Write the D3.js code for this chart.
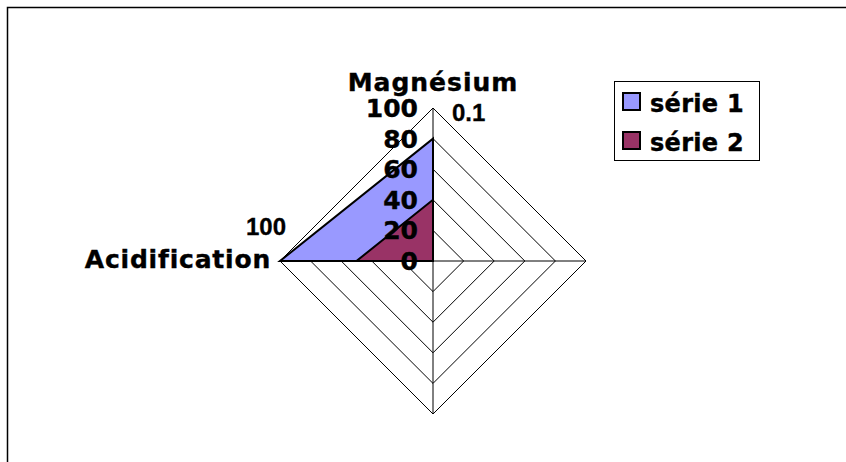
<!DOCTYPE html>
<html>
<head>
<meta charset="utf-8">
<script src="https://cdn.jsdelivr.net/npm/d3@7"></script>
<style>
  body { margin: 0; background: #fff; }
  svg { display: block; }
  .bold { font-family: "DejaVu Sans"; font-weight: bold; stroke: #000; stroke-width: 0.4px; }
  .arial { font-family: "Liberation Sans"; font-weight: bold; stroke: #000; stroke-width: 0.3px; }
</style>
</head>
<body>
<div id="container"></div>
<script>
/* CONSTANTS AND GLOBALS */
const width = 846;
const height = 462;

// DATA
const categories = ["Magnésium", "", "", "Acidification"];
const serie1 = [80, 0, 0, 100];
const serie2 = [40, 0, 0, 50];
const seriesNames = ["série 1", "série 2"];
const seriesColors = ["#9999ff", "#993366"];
const tickValues = [0, 20, 40, 60, 80, 100];
const extraLabels = ["0.1", "100"];

const cx = 433, cy = 261, radius = 153;

// SCALES
const r = d3.scaleLinear().domain([0, 100]).range([0, radius]);
const angle = d3.scaleLinear().domain([0, categories.length]).range([0, 2 * Math.PI]);

function pt(i, v) {
  const a = angle(i);
  return [r(v) * Math.sin(a), -r(v) * Math.cos(a)];
}

// CREATE SVG ELEMENT
const svg = d3.select("#container")
  .append("svg")
    .attr("width", width)
    .attr("height", height);

// chart frame
svg.append("rect")
  .attr("x", 7.5).attr("y", 7.5)
  .attr("width", width + 20).attr("height", height + 20)
  .attr("fill", "none")
  .attr("stroke", "#000")
  .attr("stroke-width", 1.5);

const g = svg.append("g")
  .attr("transform", "translate(" + cx + "," + cy + ")");

// grid rings
const line = d3.line().curve(d3.curveLinearClosed);
g.selectAll(".ring")
  .data(tickValues.filter(d => d > 0))
  .join("path")
    .attr("class", "ring")
    .attr("d", v => line(categories.map((c, i) => pt(i, v))))
    .attr("fill", "none")
    .attr("stroke", "#000")
    .attr("stroke-width", 1);

// spokes
g.selectAll(".spoke")
  .data(categories)
  .join("line")
    .attr("class", "spoke")
    .attr("x1", 0).attr("y1", 0)
    .attr("x2", (d, i) => pt(i, 100)[0])
    .attr("y2", (d, i) => pt(i, 100)[1])
    .attr("stroke", "#000")
    .attr("stroke-width", 1);

// series areas
[serie1, serie2].forEach((s, k) => {
  g.append("path")
    .attr("d", line(s.map((v, i) => pt(i, v))))
    .attr("fill", seriesColors[k])
    .attr("stroke", "#000")
    .attr("stroke-width", 2);
});

// tick labels along the first axis
g.selectAll(".tick")
  .data(tickValues)
  .join("text")
    .attr("class", "tick bold")
    .attr("x", -15)
    .attr("y", v => -r(v))
    .attr("dy", "0.36em")
    .attr("text-anchor", "end")
    .attr("font-size", 25)
    .text(d => d);

// category labels
g.append("text")
  .attr("class", "bold")
  .attr("x", 0).attr("y", -170)
  .attr("text-anchor", "middle")
  .attr("letter-spacing", 1)
  .attr("font-size", 25)
  .text(categories[0]);

g.append("text")
  .attr("class", "bold")
  .attr("x", -162).attr("y", 7)
  .attr("text-anchor", "end")
  .attr("letter-spacing", 0.8)
  .attr("font-size", 25)
  .text(categories[3]);

// extra labels
svg.append("text")
  .attr("class", "arial")
  .attr("x", 452).attr("y", 121)
  .attr("font-size", 24)
  .text(extraLabels[0]);

svg.append("text")
  .attr("class", "arial")
  .attr("x", 246).attr("y", 235)
  .attr("font-size", 24)
  .text(extraLabels[1]);

// LEGEND
const legend = svg.append("g").attr("transform", "translate(614,81)");
legend.append("rect")
  .attr("x", 0.5).attr("y", 0.5)
  .attr("width", 145).attr("height", 79)
  .attr("fill", "#fff")
  .attr("stroke", "#000")
  .attr("stroke-width", 1);

const item = legend.selectAll(".item")
  .data(seriesNames)
  .join("g")
    .attr("class", "item")
    .attr("transform", (d, i) => "translate(0," + (i * 39) + ")");

item.append("rect")
  .attr("x", 9).attr("y", 12)
  .attr("width", 17).attr("height", 17)
  .attr("fill", (d, i) => seriesColors[i])
  .attr("stroke", "#000")
  .attr("stroke-width", 2);

item.append("text")
  .attr("class", "bold")
  .attr("x", 36).attr("y", 31)
  .attr("letter-spacing", 0.3)
  .attr("font-size", 24)
  .text(d => d);
</script>
</body>
</html>
